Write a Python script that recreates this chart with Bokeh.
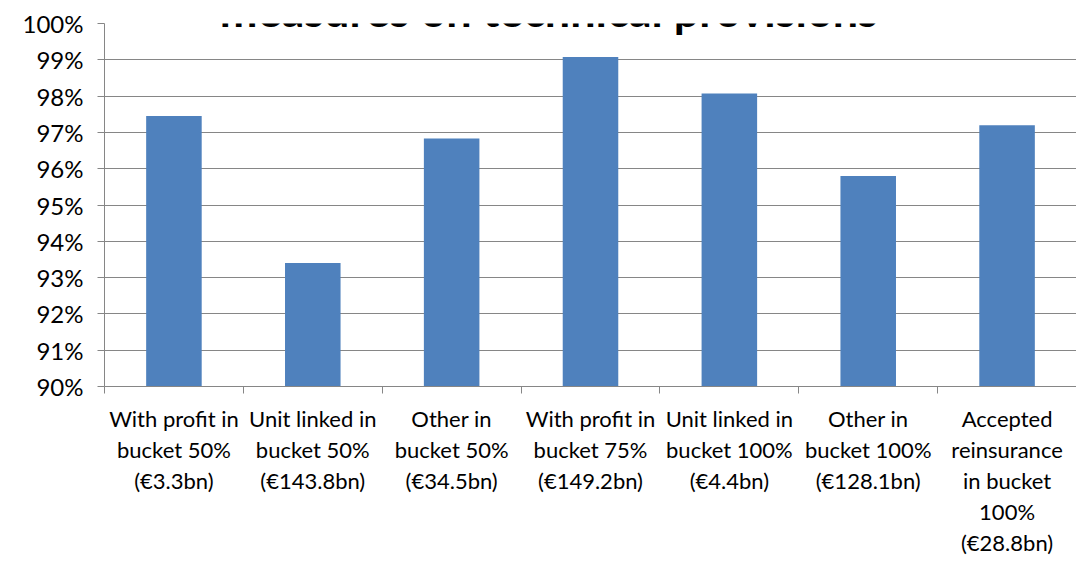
from bokeh.plotting import figure
from bokeh.models import FixedTicker, PrintfTickFormatter, Range1d, Label, ColumnDataSource
from bokeh.embed import file_html
from bokeh.resources import INLINE

categories = [
    "With profit in\nbucket 50%\n(€3.3bn)",
    "Unit linked in\nbucket 50%\n(€143.8bn)",
    "Other in\nbucket 50%\n(€34.5bn)",
    "With profit in\nbucket 75%\n(€149.2bn)",
    "Unit linked in\nbucket 100%\n(€4.4bn)",
    "Other in\nbucket 100%\n(€128.1bn)",
    "Accepted\nreinsurance\nin bucket\n100%\n(€28.8bn)",
]
values = [97.45, 93.4, 96.83, 99.08, 98.07, 95.8, 97.2]
y_ticks = [90, 91, 92, 93, 94, 95, 96, 97, 98, 99, 100]
title_text = "measures on technical provisions"

FONT = "Lato"
GRID = "#868686"
BAR = "#4F81BD"

n = len(categories)
xs = list(range(1, n + 1))
src = ColumnDataSource(dict(x=xs, top=values))

W, H = 1076, 558
p = figure(width=W, height=H, output_backend="svg", toolbar_location=None,
           x_range=Range1d(0.5, n + 0.5), y_range=Range1d(y_ticks[0], y_ticks[-1]),
           min_border_left=104, min_border_right=0, min_border_top=23, min_border_bottom=171)
p.outline_line_color = None
p.background_fill_color = "white"
p.border_fill_color = "white"

p.vbar(x="x", top="top", bottom=y_ticks[0], width=0.4, source=src,
       fill_color=BAR, line_color=None)

# x axis
p.xaxis.ticker = FixedTicker(ticks=xs, minor_ticks=[i + 0.5 for i in range(0, n + 1)])
p.xaxis.major_label_overrides = {x: c for x, c in zip(xs, categories)}
p.xaxis.major_tick_out = 0
p.xaxis.major_tick_in = 0
p.xaxis.minor_tick_out = 7
p.xaxis.minor_tick_in = 0
p.xaxis.minor_tick_line_color = GRID
p.xaxis.axis_line_color = GRID
p.xaxis.major_label_text_font = FONT
p.xaxis.major_label_text_font_size = "22px"
p.xaxis.major_label_text_color = "black"
p.xaxis.major_label_text_line_height = 1.15
p.xaxis.major_label_standoff = 11
p.xaxis.major_label_orientation = "horizontal"

# y axis
p.yaxis.ticker = FixedTicker(ticks=y_ticks)
p.yaxis.formatter = PrintfTickFormatter(format="%d%%")
p.yaxis.major_tick_out = 7
p.yaxis.major_tick_in = 0
p.yaxis.minor_tick_line_color = None
p.yaxis.major_tick_line_color = GRID
p.yaxis.axis_line_color = GRID
p.yaxis.major_label_text_font = FONT
p.yaxis.major_label_text_font_size = "24px"
p.yaxis.major_label_text_color = "black"
p.yaxis.major_label_standoff = 14

p.xgrid.grid_line_color = None
p.ygrid.grid_line_color = GRID
p.ygrid.grid_line_width = 1

p.add_layout(Label(x=(n + 1) / 2 - 0.3, y=y_ticks[-1] + 0.36, text=title_text,
                   text_font=FONT, text_font_style="bold", text_font_size="45px",
                   text_align="center", text_baseline="alphabetic", text_color="black"))

open("out.html", "w").write(file_html(p, INLINE))
